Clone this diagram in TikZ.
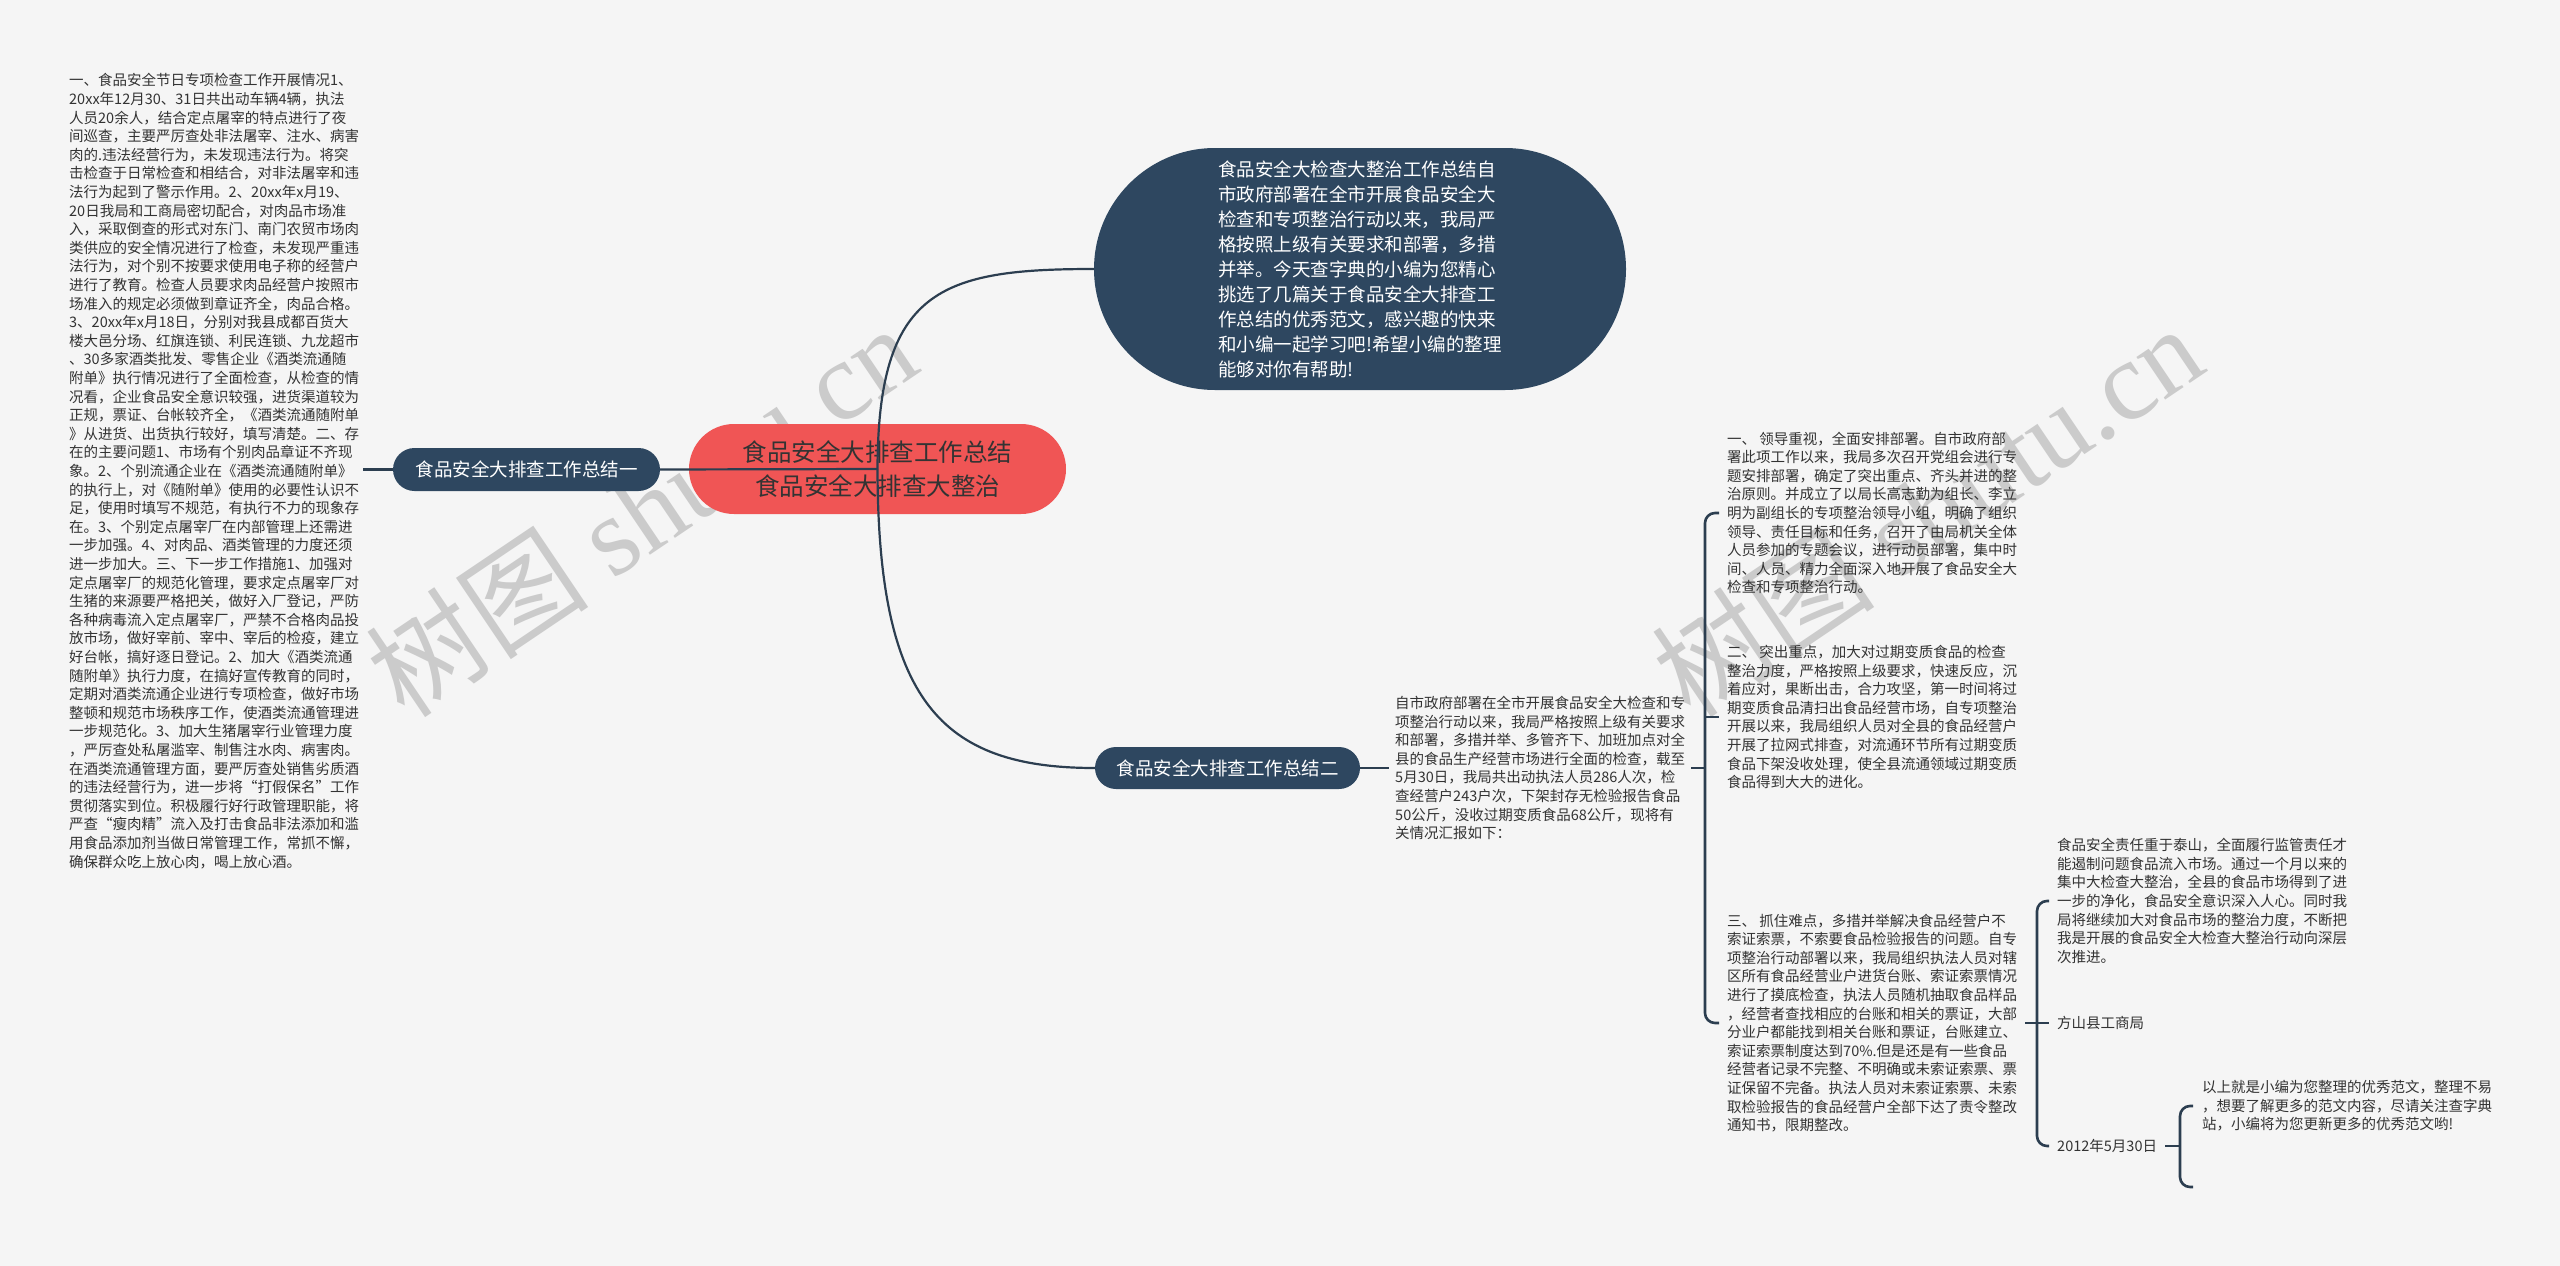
\documentclass[tikz,border=0pt]{standalone}
\usepackage{fontspec}
\setmainfont{Noto Sans CJK SC}
\newfontfamily\wmfont{Liberation Serif}
\definecolor{bgc}{HTML}{F5F5F5}
\definecolor{rootred}{HTML}{F05555}
\definecolor{nodeblue}{HTML}{2E4760}
\definecolor{linec}{HTML}{2C3E50}
\definecolor{txt}{HTML}{333333}
\definecolor{wm}{HTML}{CBCBCB}
\tikzset{
  dnode/.style={fill=nodeblue, draw=none, text=white, inner sep=0pt, font=\fontsize{18.5}{22}\selectfont},
  rootn/.style={fill=rootred, draw=none, text=txt, inner sep=0pt, align=center, font=\fontsize{24.5}{34}\selectfont},
  ptext/.style={text=txt, align=left, inner ysep=0pt, inner xsep=8pt, anchor=west, font=\fontsize{14.5}{18.6}\selectfont},
  link/.style={draw=linec, line width=2.6pt},
  curve/.style={draw=linec, line width=2.2pt},
  wmark/.style={text=wm, rotate=34, font=\fontsize{112}{112}\selectfont, inner sep=0pt}
}
\begin{document}
\begin{tikzpicture}[x=1pt,y=-1pt]
\useasboundingbox (0,0) rectangle (2560,1266);
\fill[bgc] (0,0) rectangle (2560,1266);

% watermarks (behind everything)
\node[wmark] (wm1) at (641,510) {树图 {\wmfont shutu.cn}};
\node[wmark] (wm2) at (1927,510) {树图 {\wmfont shutu.cn}};

% nodes
\node[rootn, minimum width=377pt, minimum height=90pt, rounded corners=45pt] (root) at (877.5,469) {食品安全大排查工作总结\\食品安全大排查大整治};

\node[dnode, minimum width=267pt, minimum height=43pt, rounded corners=21.5pt] (n1) at (526.5,469.5) {食品安全大排查工作总结一};

\node[dnode, minimum width=265pt, minimum height=42pt, rounded corners=21pt] (n2) at (1227.5,768) {食品安全大排查工作总结二};

\node[dnode, minimum width=532pt, minimum height=242pt, rounded corners=121pt, align=left, font=\fontsize{18.5}{25}\selectfont] (top) at (1360,269) {食品安全大检查大整治工作总结自\\市政府部署在全市开展食品安全大\\检查和专项整治行动以来，我局严\\格按照上级有关要求和部署，多措\\并举。今天查字典的小编为您精心\\挑选了几篇关于食品安全大排查工\\作总结的优秀范文，感兴趣的快来\\和小编一起学习吧!希望小编的整理\\能够对你有帮助!};

\node[ptext, inner xsep=4pt] (lt) at (65,471) {一、食品安全节日专项检查工作开展情况1、\\20xx年12月30、31日共出动车辆4辆，执法\\人员20余人，结合定点屠宰的特点进行了夜\\间巡查，主要严厉查处非法屠宰、注水、病害\\肉的.违法经营行为，未发现违法行为。将突\\击检查于日常检查和相结合，对非法屠宰和违\\法行为起到了警示作用。2、20xx年x月19、\\20日我局和工商局密切配合，对肉品市场准\\入，采取倒查的形式对东门、南门农贸市场肉\\类供应的安全情况进行了检查，未发现严重违\\法行为，对个别不按要求使用电子称的经营户\\进行了教育。检查人员要求肉品经营户按照市\\场准入的规定必须做到章证齐全，肉品合格。\\3、20xx年x月18日，分别对我县成都百货大\\楼大邑分场、红旗连锁、利民连锁、九龙超市\\、30多家酒类批发、零售企业《酒类流通随\\附单》执行情况进行了全面检查，从检查的情\\况看，企业食品安全意识较强，进货渠道较为\\正规，票证、台帐较齐全，《酒类流通随附单\\》从进货、出货执行较好，填写清楚。二、存\\在的主要问题1、市场有个别肉品章证不齐现\\象。2、个别流通企业在《酒类流通随附单》\\的执行上，对《随附单》使用的必要性认识不\\足，使用时填写不规范，有执行不力的现象存\\在。3、个别定点屠宰厂在内部管理上还需进\\一步加强。4、对肉品、酒类管理的力度还须\\进一步加大。三、下一步工作措施1、加强对\\定点屠宰厂的规范化管理，要求定点屠宰厂对\\生猪的来源要严格把关，做好入厂登记，严防\\各种病毒流入定点屠宰厂，严禁不合格肉品投\\放市场，做好宰前、宰中、宰后的检疫，建立\\好台帐，搞好逐日登记。2、加大《酒类流通\\随附单》执行力度，在搞好宣传教育的同时，\\定期对酒类流通企业进行专项检查，做好市场\\整顿和规范市场秩序工作，使酒类流通管理进\\一步规范化。3、加大生猪屠宰行业管理力度\\，严厉查处私屠滥宰、制售注水肉、病害肉。\\在酒类流通管理方面，要严厉查处销售劣质酒\\的违法经营行为，进一步将“打假保名”工作\\贯彻落实到位。积极履行好行政管理职能，将\\严查“瘦肉精”流入及打击食品非法添加和滥\\用食品添加剂当做日常管理工作，常抓不懈，\\确保群众吃上放心肉，喝上放心酒。};

\node[ptext, inner xsep=6pt] (t0) at (1389,768) {自市政府部署在全市开展食品安全大检查和专\\项整治行动以来，我局严格按照上级有关要求\\和部署，多措并举、多管齐下、加班加点对全\\县的食品生产经营市场进行全面的检查，载至\\5月30日，我局共出动执法人员286人次，检\\查经营户243户次，下架封存无检验报告食品\\50公斤，没收过期变质食品68公斤，现将有\\关情况汇报如下：};

\coordinate (b1) at (1705,768);
\node[ptext] (t1) at (1719,513) {一、 领导重视，全面安排部署。自市政府部\\署此项工作以来，我局多次召开党组会进行专\\题安排部署，确定了突出重点、齐头并进的整\\治原则。并成立了以局长高志勤为组长、李立\\明为副组长的专项整治领导小组，明确了组织\\领导、责任目标和任务，召开了由局机关全体\\人员参加的专题会议，进行动员部署，集中时\\间、人员、精力全面深入地开展了食品安全大\\检查和专项整治行动。};
\node[ptext] (t2) at (1719,717) {二、 突出重点，加大对过期变质食品的检查\\整治力度，严格按照上级要求，快速反应，沉\\着应对，果断出击，合力攻坚，第一时间将过\\期变质食品清扫出食品经营市场，自专项整治\\开展以来，我局组织人员对全县的食品经营户\\开展了拉网式排查，对流通环节所有过期变质\\食品下架没收处理，使全县流通领域过期变质\\食品得到大大的进化。};
\node[ptext] (t3) at (1719,1023) {三、 抓住难点，多措并举解决食品经营户不\\索证索票，不索要食品检验报告的问题。自专\\项整治行动部署以来，我局组织执法人员对辖\\区所有食品经营业户进货台账、索证索票情况\\进行了摸底检查，执法人员随机抽取食品样品\\，经营者查找相应的台账和相关的票证，大部\\分业户都能找到相关台账和票证，台账建立、\\索证索票制度达到70\%.但是还是有一些食品\\经营者记录不完整、不明确或未索证索票、票\\证保留不完备。执法人员对未索证索票、未索\\取检验报告的食品经营户全部下达了责令整改\\通知书，限期整改。};

\coordinate (b2) at (2037,1023);
\node[ptext] (t4) at (2049,901) {食品安全责任重于泰山，全面履行监管责任才\\能遏制问题食品流入市场。通过一个月以来的\\集中大检查大整治，全县的食品市场得到了进\\一步的净化，食品安全意识深入人心。同时我\\局将继续加大对食品市场的整治力度，不断把\\我是开展的食品安全大检查大整治行动向深层\\次推进。};
\node[ptext] (fs) at (2049,1023) {方山县工商局};
\node[ptext] (d) at (2049,1146) {2012年5月30日};

\coordinate (b3) at (2180,1146);
\node[ptext, inner xsep=9pt] (t5) at (2193,1106) {以上就是小编为您整理的优秀范文，整理不易\\，想要了解更多的范文内容，尽请关注查字典\\站，小编将为您更新更多的优秀范文哟!};
\coordinate (e5) at (2193,1187);

% connectors from root
\draw[curve] (root.center) -- (n1.east);
\draw[curve] (root.center) .. controls (878,290) and (940,269) .. (top.west);
\draw[curve] (root.center) .. controls (878,700) and (940,768) .. (n2.west);
\draw[link] (lt.east |- n1.west) -- (n1.west);

% right side
\draw[link] (n2.east) -- (t0.west);
\draw[link] (t0.east) -- (b1);
\draw[link, rounded corners=10pt] (t1.west) -- (t1.west -| b1) -- (t3.west -| b1) -- (t3.west);
\draw[link] (t2.west -| b1) -- (t2.west);

\draw[link] (t3.east) -- (b2);
\draw[link, rounded corners=10pt] (t4.west) -- (t4.west -| b2) -- (d.west -| b2) -- (d.west);
\draw[link] (fs.west -| b2) -- (fs.west);

\draw[link] (d.east) -- (b3);
\draw[link, rounded corners=10pt] (t5.west) -- (t5.west -| b3) -- (e5 -| b3) -- (e5);
\end{tikzpicture}
\end{document}
